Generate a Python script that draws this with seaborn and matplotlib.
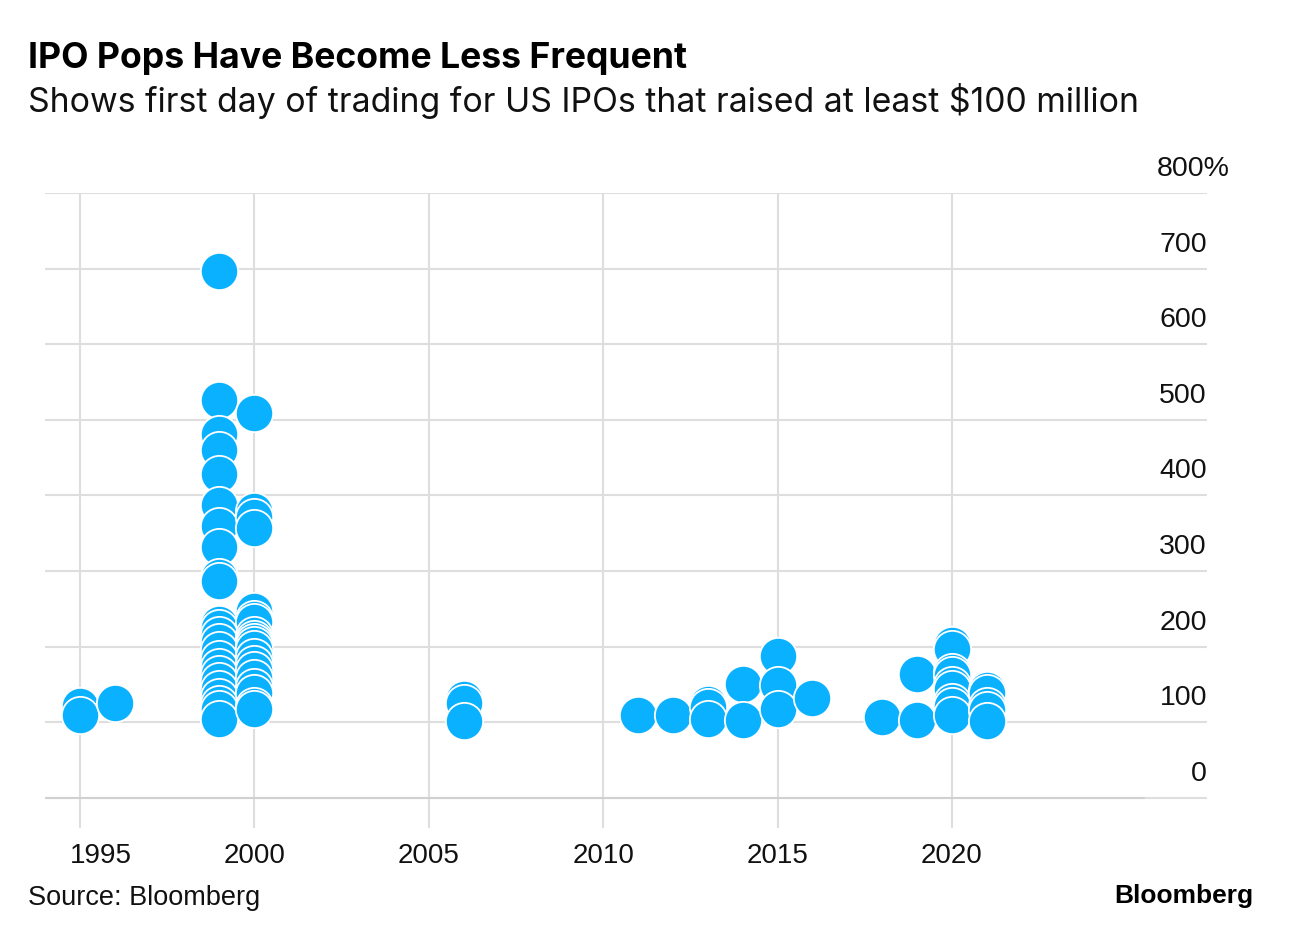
import matplotlib
matplotlib.use("Agg")
import matplotlib.pyplot as plt
import matplotlib.transforms as mtransforms
import seaborn as sns
import pandas as pd

# ---- data (first-day pop, %) ----
years = (
    [1995, 1995]
    + [1996]
    + [1999] * 24
    + [2000] * 20
    + [2006] * 3
    + [2011]
    + [2012]
    + [2013] * 3
    + [2014] * 2
    + [2015] * 3
    + [2016]
    + [2018]
    + [2019] * 2
    + [2020] * 9
    + [2021] * 5
)
pops = (
    [122, 109]
    + [125]
    + [697, 526, 481, 460, 428, 387, 359, 332, 292, 287, 230, 224, 215, 206,
       195, 184, 173, 164, 155, 144, 133, 124, 118, 104]
    + [509, 379, 372, 357, 247, 237, 233, 215, 210, 206, 202, 197, 186, 177,
       169, 158, 147, 138, 122, 118]
    + [131, 126, 102]
    + [110]
    + [109]
    + [124, 120, 104]
    + [150, 103]
    + [187, 149, 118]
    + [132]
    + [107]
    + [164, 103]
    + [202, 197, 166, 162, 149, 144, 127, 122, 109]
    + [142, 138, 122, 116, 102]
)
x_ticks = [1995, 2000, 2005, 2010, 2015, 2020]
x_tick_labels = ["1995", "2000", "2005", "2010", "2015", "2020"]
y_ticks = [0, 100, 200, 300, 400, 500, 600, 700, 800]
y_tick_labels = ["0", "100", "200", "300", "400", "500", "600", "700", "800%"]

title = "IPO Pops Have Become Less Frequent"
subtitle = "Shows first day of trading for US IPOs that raised at least $100 million"
source = "Source: Bloomberg"
brand = "Bloomberg"

BLUE = "#0ab1ff"
GRID = "#dedede"

sns.set_theme(style="white")
plt.rcParams["font.family"] = ["Liberation Sans", "DejaVu Sans"]

W, H = 1293, 940
fig = plt.figure(figsize=(W / 100, H / 100), dpi=100)
ax = fig.add_axes([45 / W, 1 - 828 / H, 1162 / W, 635 / H])

df = pd.DataFrame({"year": years, "pop": pops})
sns.scatterplot(data=df, x="year", y="pop", ax=ax, s=720, color=BLUE,
                edgecolor="white", linewidth=1.3, zorder=3, legend=False)

ax.set_xlim(1994.0, 2027.31)
ax.set_ylim(-40, 800)
ax.set_xlabel("")
ax.set_ylabel("")
for sp in ax.spines.values():
    sp.set_visible(False)

ax.set_xticks(x_ticks)
ax.set_xticklabels(x_tick_labels)
ax.yaxis.tick_right()
ax.set_yticks(y_ticks)
ax.set_yticklabels(y_tick_labels)
ax.tick_params(axis="x", length=0, pad=10.5, labelsize=20, colors="#111111")
ax.tick_params(axis="y", length=0, pad=0, labelsize=20.5, colors="#111111")
ax.grid(True, color=GRID, linewidth=1.5, zorder=0)
ax.set_axisbelow(True)

# darker baseline under the plot
ax.plot([1994.0, 2025.5], [0, 0], color="#d0d0d0", linewidth=1.5, zorder=1)

fig.canvas.draw()
for lab in ax.get_yticklabels():
    lab.set_horizontalalignment("right")
    lab.set_verticalalignment("baseline")
    dx = 23 / 100 if lab.get_text().endswith("%") else 0
    lab.set_transform(lab.get_transform()
                      + mtransforms.ScaledTranslation(dx, 17 / 100, fig.dpi_scale_trans))
xl = ax.get_xticklabels()[0]
xl.set_transform(xl.get_transform()
                 + mtransforms.ScaledTranslation(21 / 100, 0, fig.dpi_scale_trans))

renderer = fig.canvas.get_renderer()


def fit_text(t, target_px):
    w = t.get_window_extent(renderer=renderer).width
    t.set_fontsize(t.get_fontsize() * target_px / w)


t1 = fig.text(28 / W, 1 - 68 / H, title, fontsize=24, fontweight="bold",
              va="baseline", ha="left", color="#000000",
              family=["Inter", "Liberation Sans", "DejaVu Sans"])
fit_text(t1, 662)
t2 = fig.text(28 / W, 1 - 112 / H, subtitle, fontsize=22,
              va="baseline", ha="left", color="#111111",
              family=["Inter", "Liberation Sans", "DejaVu Sans"])
fit_text(t2, 1110)
fig.text(28 / W, 1 - 905 / H, source, fontsize=19.5,
         va="baseline", ha="left", color="#111111")
fig.text(1253 / W, 1 - 903 / H, brand, fontsize=19, fontweight="bold",
         va="baseline", ha="right", color="#000000")

fig.savefig("out.png", dpi=100, facecolor="white")
